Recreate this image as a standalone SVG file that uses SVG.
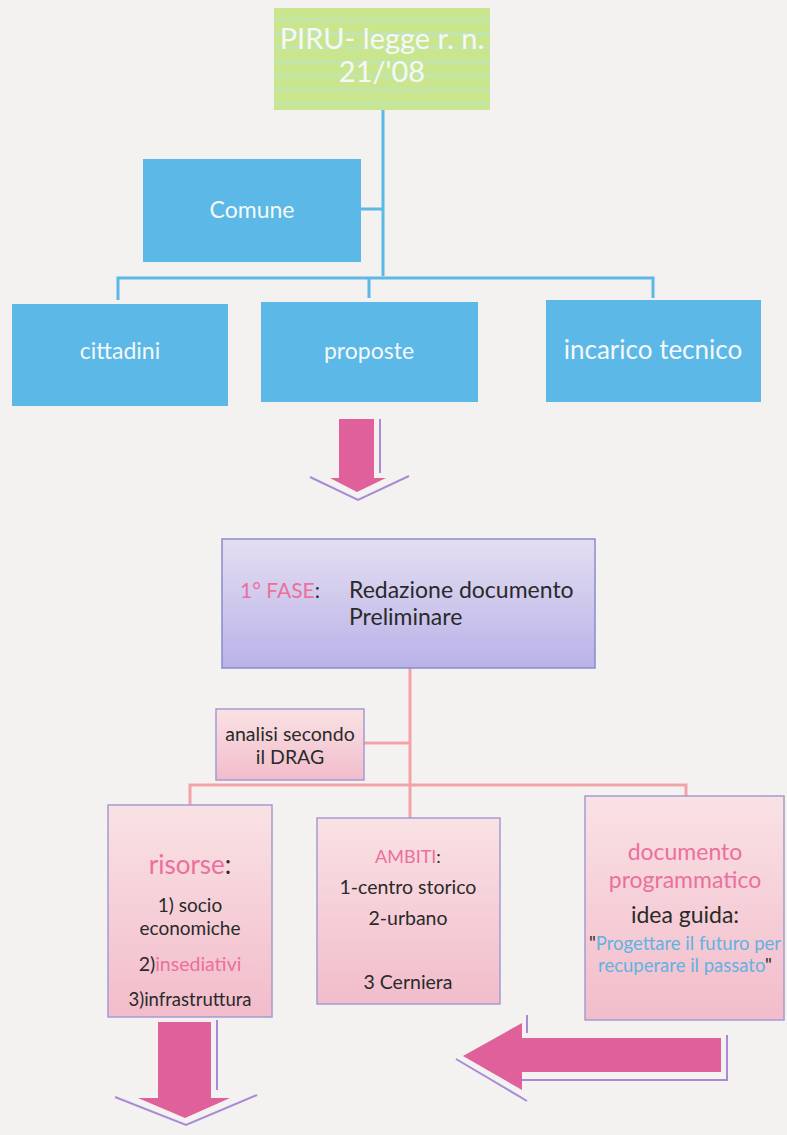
<svg xmlns="http://www.w3.org/2000/svg" width="787" height="1135" viewBox="0 0 787 1135">
<defs>
<linearGradient id="gPhase" x1="0" y1="0" x2="0" y2="1"><stop offset="0" stop-color="#e4def2"/><stop offset="1" stop-color="#b9b2e8"/></linearGradient>
<linearGradient id="gPink" x1="0" y1="0" x2="0" y2="1"><stop offset="0" stop-color="#f9e2e4"/><stop offset="1" stop-color="#f2bccb"/></linearGradient>
<pattern id="stripes" width="10" height="14" patternUnits="userSpaceOnUse"><rect width="10" height="14" fill="#c9e68f"/><rect y="5" width="10" height="1.5" fill="#b8e4d0"/></pattern>
<style>
text{font-family:Lato,"Liberation Sans",sans-serif}
.blue{fill:#5cb8e6}
.bl{stroke:#5cb8e6;stroke-width:3;fill:none}
.pl{stroke:#f2a3a8;stroke-width:3;fill:none}
.wt{fill:#f4f8fb;text-anchor:middle}
.dk{fill:#2a2a2a}
.pk{fill:#ec6f9c}
.pbox{fill:url(#gPink);stroke:#a59ad2;stroke-width:1.5}
.arrow{fill:#e0609c}
.sh{stroke:#a88ad8;stroke-width:2;fill:none}
.c{text-anchor:middle}
</style>
</defs>
<rect width="787" height="1135" fill="#f4f2f0"/>

<g id="connectors">
<path class="bl" d="M383 110V276M361 209H383M118 300V278H653V298M369 278V298"/>
<path class="pl" d="M410 668V818M364 743H410M190 805V785H686V796"/>
</g>

<g id="piru">
<rect x="274" y="8" width="216" height="102" fill="url(#stripes)"/>
<text x="382" y="49" class="wt" font-size="29" fill="#eef6e2">PIRU- legge r. n.</text>
<text x="382" y="82" class="wt" font-size="29" fill="#eef6e2">21/'08</text>
</g>

<g id="comune"><rect x="143" y="159" width="218" height="103" class="blue"/><text x="252" y="218" class="wt" font-size="23">Comune</text></g>
<g id="cittadini"><rect x="12" y="304" width="216" height="102" class="blue"/><text x="120" y="359" class="wt" font-size="23">cittadini</text></g>
<g id="proposte"><rect x="261" y="302" width="217" height="100" class="blue"/><text x="369" y="359" class="wt" font-size="23">proposte</text></g>
<g id="incarico"><rect x="546" y="300" width="215" height="102" class="blue"/><text x="653" y="359" class="wt" font-size="26">incarico tecnico</text></g>

<g id="arrow1">
<path class="sh" d="M380 419V473M310 477L358 500L409 476"/>
<path class="arrow" d="M339 419H374V478H386L357 492L330 478H339Z"/>
</g>

<g id="fase">
<rect x="222" y="539" width="373" height="129" fill="url(#gPhase)" stroke="#8b8bcc" stroke-width="1.5"/>
<text x="240" y="598" font-size="21"><tspan class="pk">1° FASE</tspan><tspan class="dk">:</tspan></text>
<text x="349" y="598" font-size="23" class="dk">Redazione documento</text>
<text x="349" y="625" font-size="23" class="dk">Preliminare</text>
</g>

<g id="analisi">
<rect x="216" y="709" width="148" height="71" class="pbox"/>
<text x="290" y="741" class="c dk" font-size="19.5">analisi secondo</text>
<text x="290" y="764" class="c dk" font-size="19.5">il DRAG</text>
</g>

<g id="risorse">
<rect x="108" y="805" width="164" height="212" class="pbox"/>
<text x="190" y="874" class="c" font-size="26"><tspan class="pk">risorse</tspan><tspan class="dk">:</tspan></text>
<text x="190" y="912" class="c dk" font-size="19">1) socio</text>
<text x="190" y="935" class="c dk" font-size="19">economiche</text>
<text x="190" y="971" class="c" font-size="19.5"><tspan class="dk">2)</tspan><tspan class="pk">insediativi</tspan></text>
<text x="190" y="1006" class="c dk" font-size="18.5">3)infrastruttura</text>
</g>

<g id="ambiti">
<rect x="317" y="818" width="183" height="186" class="pbox"/>
<text x="408" y="863" class="c" font-size="18"><tspan class="pk">AMBITI</tspan><tspan class="dk">:</tspan></text>
<text x="408" y="894" class="c dk" font-size="19.5">1-centro storico</text>
<text x="408" y="925" class="c dk" font-size="19.5">2-urbano</text>
<text x="408" y="989" class="c dk" font-size="19.5">3 Cerniera</text>
</g>

<g id="documento">
<rect x="585" y="796" width="199" height="224" class="pbox"/>
<text x="685" y="860" class="c pk" font-size="23">documento</text>
<text x="685" y="888" class="c pk" font-size="23">programmatico</text>
<text x="685" y="923" class="c dk" font-size="23">idea guida:</text>
<text x="685" y="950" class="c" font-size="18.5"><tspan class="dk">"</tspan><tspan fill="#62b2e2">Progettare il futuro per</tspan></text>
<text x="685" y="972" class="c" font-size="18.5"><tspan fill="#62b2e2">recuperare il passato</tspan><tspan class="dk">"</tspan></text>
</g>

<g id="arrow2">
<path class="sh" d="M217 1020V1090M115 1097L186 1125L257 1095"/>
<path class="arrow" d="M158 1022H211V1098H230L185 1118L138 1098H158Z"/>
</g>

<g id="arrow3">
<path class="sh" d="M527 1015V1033M727 1035V1080H522M456 1059L527 1101"/>
<path class="arrow" d="M463 1056L522 1023V1038H721V1072H522V1090Z"/>
</g>
</svg>
